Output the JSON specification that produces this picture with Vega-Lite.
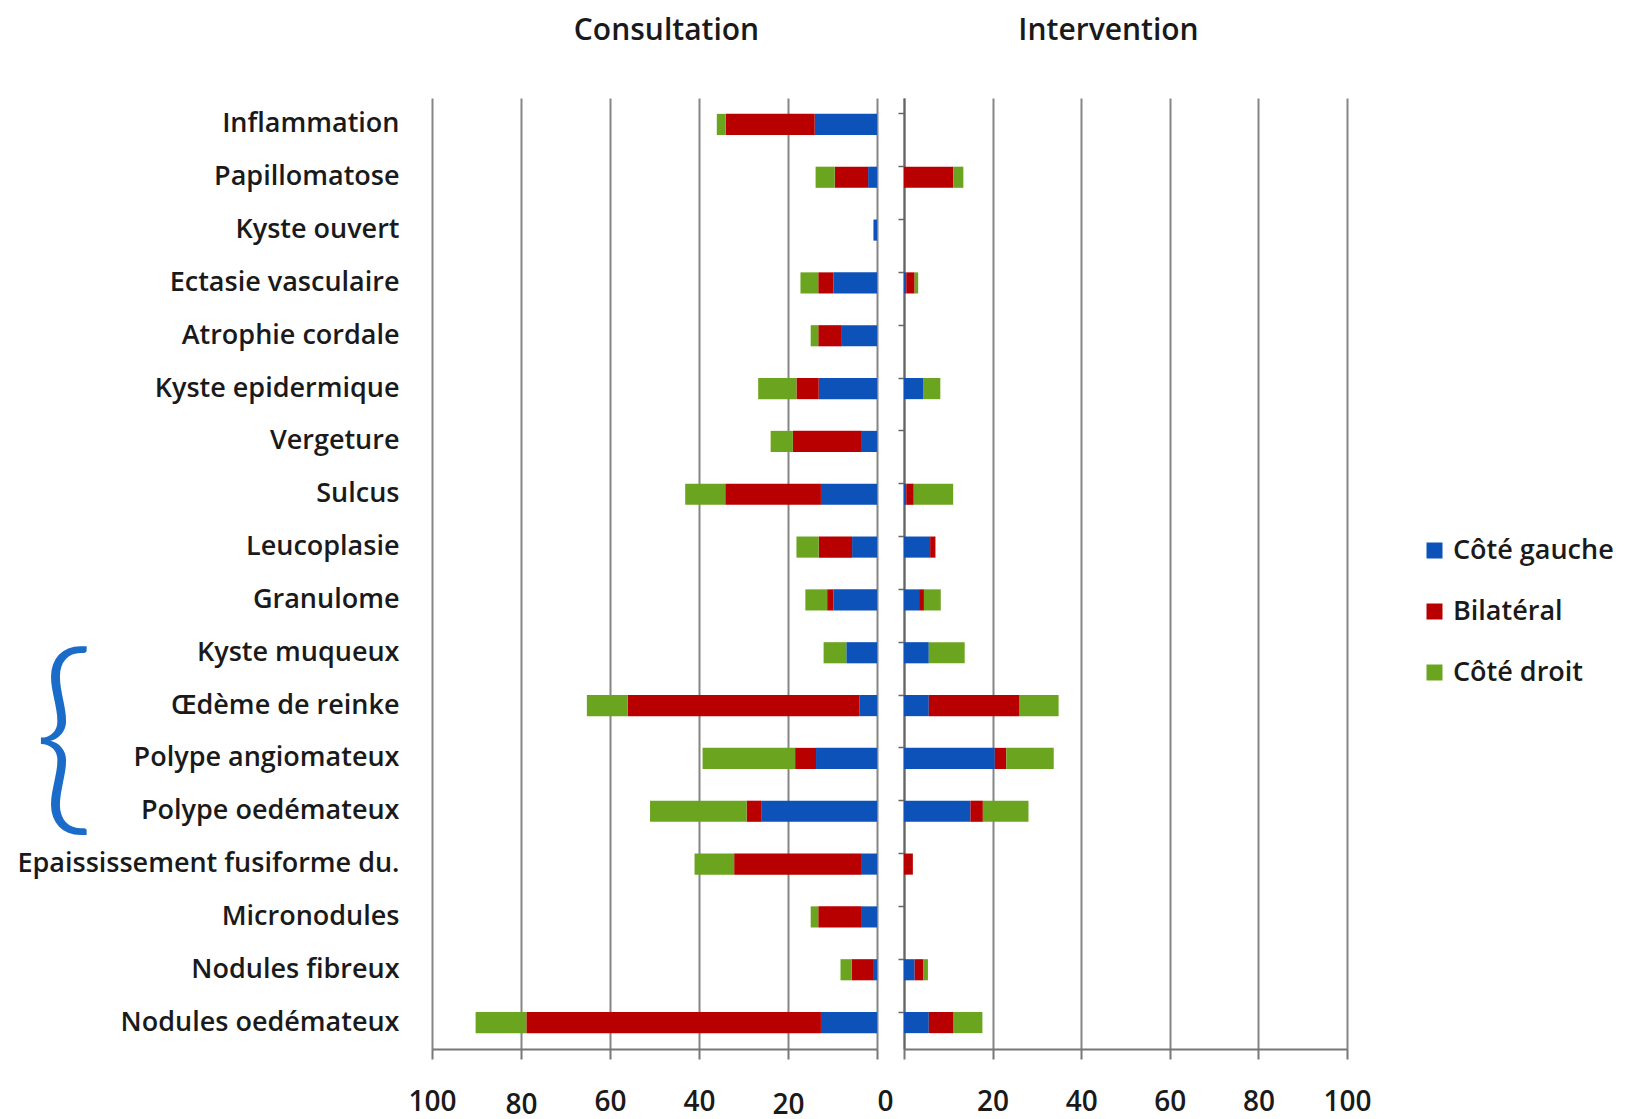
{
  "$schema": "https://vega.github.io/schema/vega-lite/v6.json",
  "background": "white",
  "padding": {"left": 16, "top": 16, "right": 5, "bottom": 3},
  "config": {
    "font": "Open Sans",
    "view": {"stroke": null},
    "title": {"fontSize": 30, "fontWeight": 600, "color": "#1a1a1a", "anchor": "middle", "offset": 52, "font": "Open Sans"},
    "axisX": {
      "grid": true, "gridColor": "#858585", "gridWidth": 2,
      "domainColor": "#777777", "domainWidth": 2,
      "tickColor": "#777777", "tickSize": 10, "tickWidth": 2,
      "labelFontSize": 28, "labelFontWeight": 600, "labelColor": "#1a1a1a", "labelFlush": false,
      "title": null
    },
    "legend": {"labelFontSize": 27, "labelFontWeight": 600, "labelColor": "#1a1a1a", "labelLimit": 0, "symbolType": "square", "symbolSize": 256, "symbolStrokeWidth": 0, "rowPadding": 33, "labelOffset": 5}
  },
  "datasets": {
    "lesions": [
      {"lesion": "Inflammation", "vue": "Consultation", "cote": "Côté gauche", "pourcentage": 14},
      {"lesion": "Inflammation", "vue": "Consultation", "cote": "Bilatéral", "pourcentage": 20},
      {"lesion": "Inflammation", "vue": "Consultation", "cote": "Côté droit", "pourcentage": 2},
      {"lesion": "Papillomatose", "vue": "Consultation", "cote": "Côté gauche", "pourcentage": 2},
      {"lesion": "Papillomatose", "vue": "Consultation", "cote": "Bilatéral", "pourcentage": 7.5},
      {"lesion": "Papillomatose", "vue": "Consultation", "cote": "Côté droit", "pourcentage": 4.3},
      {"lesion": "Kyste ouvert", "vue": "Consultation", "cote": "Côté gauche", "pourcentage": 0.8},
      {"lesion": "Ectasie vasculaire", "vue": "Consultation", "cote": "Côté gauche", "pourcentage": 9.8},
      {"lesion": "Ectasie vasculaire", "vue": "Consultation", "cote": "Bilatéral", "pourcentage": 3.4},
      {"lesion": "Ectasie vasculaire", "vue": "Consultation", "cote": "Côté droit", "pourcentage": 4},
      {"lesion": "Atrophie cordale", "vue": "Consultation", "cote": "Côté gauche", "pourcentage": 7.9},
      {"lesion": "Atrophie cordale", "vue": "Consultation", "cote": "Bilatéral", "pourcentage": 5.3},
      {"lesion": "Atrophie cordale", "vue": "Consultation", "cote": "Côté droit", "pourcentage": 1.7},
      {"lesion": "Kyste epidermique", "vue": "Consultation", "cote": "Côté gauche", "pourcentage": 13.1},
      {"lesion": "Kyste epidermique", "vue": "Consultation", "cote": "Bilatéral", "pourcentage": 5},
      {"lesion": "Kyste epidermique", "vue": "Consultation", "cote": "Côté droit", "pourcentage": 8.6},
      {"lesion": "Vergeture", "vue": "Consultation", "cote": "Côté gauche", "pourcentage": 3.4},
      {"lesion": "Vergeture", "vue": "Consultation", "cote": "Bilatéral", "pourcentage": 15.5},
      {"lesion": "Vergeture", "vue": "Consultation", "cote": "Côté droit", "pourcentage": 5},
      {"lesion": "Sulcus", "vue": "Consultation", "cote": "Côté gauche", "pourcentage": 12.6},
      {"lesion": "Sulcus", "vue": "Consultation", "cote": "Bilatéral", "pourcentage": 21.5},
      {"lesion": "Sulcus", "vue": "Consultation", "cote": "Côté droit", "pourcentage": 9},
      {"lesion": "Leucoplasie", "vue": "Consultation", "cote": "Côté gauche", "pourcentage": 5.6},
      {"lesion": "Leucoplasie", "vue": "Consultation", "cote": "Bilatéral", "pourcentage": 7.5},
      {"lesion": "Leucoplasie", "vue": "Consultation", "cote": "Côté droit", "pourcentage": 5},
      {"lesion": "Granulome", "vue": "Consultation", "cote": "Côté gauche", "pourcentage": 9.8},
      {"lesion": "Granulome", "vue": "Consultation", "cote": "Bilatéral", "pourcentage": 1.4},
      {"lesion": "Granulome", "vue": "Consultation", "cote": "Côté droit", "pourcentage": 4.9},
      {"lesion": "Kyste muqueux", "vue": "Consultation", "cote": "Côté gauche", "pourcentage": 6.9},
      {"lesion": "Kyste muqueux", "vue": "Consultation", "cote": "Côté droit", "pourcentage": 5.1},
      {"lesion": "Œdème de reinke", "vue": "Consultation", "cote": "Côté gauche", "pourcentage": 3.9},
      {"lesion": "Œdème de reinke", "vue": "Consultation", "cote": "Bilatéral", "pourcentage": 52.1},
      {"lesion": "Œdème de reinke", "vue": "Consultation", "cote": "Côté droit", "pourcentage": 9.2},
      {"lesion": "Polype angiomateux", "vue": "Consultation", "cote": "Côté gauche", "pourcentage": 13.7},
      {"lesion": "Polype angiomateux", "vue": "Consultation", "cote": "Bilatéral", "pourcentage": 4.7},
      {"lesion": "Polype angiomateux", "vue": "Consultation", "cote": "Côté droit", "pourcentage": 20.8},
      {"lesion": "Polype oedémateux", "vue": "Consultation", "cote": "Côté gauche", "pourcentage": 25.9},
      {"lesion": "Polype oedémateux", "vue": "Consultation", "cote": "Bilatéral", "pourcentage": 3.4},
      {"lesion": "Polype oedémateux", "vue": "Consultation", "cote": "Côté droit", "pourcentage": 21.7},
      {"lesion": "Epaississement fusiforme du.", "vue": "Consultation", "cote": "Côté gauche", "pourcentage": 3.4},
      {"lesion": "Epaississement fusiforme du.", "vue": "Consultation", "cote": "Bilatéral", "pourcentage": 28.7},
      {"lesion": "Epaississement fusiforme du.", "vue": "Consultation", "cote": "Côté droit", "pourcentage": 8.9},
      {"lesion": "Micronodules", "vue": "Consultation", "cote": "Côté gauche", "pourcentage": 3.4},
      {"lesion": "Micronodules", "vue": "Consultation", "cote": "Bilatéral", "pourcentage": 9.8},
      {"lesion": "Micronodules", "vue": "Consultation", "cote": "Côté droit", "pourcentage": 1.7},
      {"lesion": "Nodules fibreux", "vue": "Consultation", "cote": "Côté gauche", "pourcentage": 0.7},
      {"lesion": "Nodules fibreux", "vue": "Consultation", "cote": "Bilatéral", "pourcentage": 5},
      {"lesion": "Nodules fibreux", "vue": "Consultation", "cote": "Côté droit", "pourcentage": 2.5},
      {"lesion": "Nodules oedémateux", "vue": "Consultation", "cote": "Côté gauche", "pourcentage": 12.6},
      {"lesion": "Nodules oedémateux", "vue": "Consultation", "cote": "Bilatéral", "pourcentage": 66.2},
      {"lesion": "Nodules oedémateux", "vue": "Consultation", "cote": "Côté droit", "pourcentage": 11.4},
      {"lesion": "Papillomatose", "vue": "Intervention", "cote": "Bilatéral", "pourcentage": 11.1},
      {"lesion": "Papillomatose", "vue": "Intervention", "cote": "Côté droit", "pourcentage": 2.3},
      {"lesion": "Ectasie vasculaire", "vue": "Intervention", "cote": "Côté gauche", "pourcentage": 0.5},
      {"lesion": "Ectasie vasculaire", "vue": "Intervention", "cote": "Bilatéral", "pourcentage": 1.9},
      {"lesion": "Ectasie vasculaire", "vue": "Intervention", "cote": "Côté droit", "pourcentage": 0.8},
      {"lesion": "Kyste epidermique", "vue": "Intervention", "cote": "Côté gauche", "pourcentage": 4.3},
      {"lesion": "Kyste epidermique", "vue": "Intervention", "cote": "Côté droit", "pourcentage": 3.9},
      {"lesion": "Sulcus", "vue": "Intervention", "cote": "Côté gauche", "pourcentage": 0.5},
      {"lesion": "Sulcus", "vue": "Intervention", "cote": "Bilatéral", "pourcentage": 1.7},
      {"lesion": "Sulcus", "vue": "Intervention", "cote": "Côté droit", "pourcentage": 8.9},
      {"lesion": "Leucoplasie", "vue": "Intervention", "cote": "Côté gauche", "pourcentage": 5.9},
      {"lesion": "Leucoplasie", "vue": "Intervention", "cote": "Bilatéral", "pourcentage": 1.2},
      {"lesion": "Granulome", "vue": "Intervention", "cote": "Côté gauche", "pourcentage": 3.4},
      {"lesion": "Granulome", "vue": "Intervention", "cote": "Bilatéral", "pourcentage": 1.1},
      {"lesion": "Granulome", "vue": "Intervention", "cote": "Côté droit", "pourcentage": 3.8},
      {"lesion": "Kyste muqueux", "vue": "Intervention", "cote": "Côté gauche", "pourcentage": 5.6},
      {"lesion": "Kyste muqueux", "vue": "Intervention", "cote": "Côté droit", "pourcentage": 8.1},
      {"lesion": "Œdème de reinke", "vue": "Intervention", "cote": "Côté gauche", "pourcentage": 5.6},
      {"lesion": "Œdème de reinke", "vue": "Intervention", "cote": "Bilatéral", "pourcentage": 20.5},
      {"lesion": "Œdème de reinke", "vue": "Intervention", "cote": "Côté droit", "pourcentage": 8.8},
      {"lesion": "Polype angiomateux", "vue": "Intervention", "cote": "Côté gauche", "pourcentage": 20.5},
      {"lesion": "Polype angiomateux", "vue": "Intervention", "cote": "Bilatéral", "pourcentage": 2.6},
      {"lesion": "Polype angiomateux", "vue": "Intervention", "cote": "Côté droit", "pourcentage": 10.7},
      {"lesion": "Polype oedémateux", "vue": "Intervention", "cote": "Côté gauche", "pourcentage": 15},
      {"lesion": "Polype oedémateux", "vue": "Intervention", "cote": "Bilatéral", "pourcentage": 2.8},
      {"lesion": "Polype oedémateux", "vue": "Intervention", "cote": "Côté droit", "pourcentage": 10.3},
      {"lesion": "Epaississement fusiforme du.", "vue": "Intervention", "cote": "Bilatéral", "pourcentage": 2},
      {"lesion": "Nodules fibreux", "vue": "Intervention", "cote": "Côté gauche", "pourcentage": 2.4},
      {"lesion": "Nodules fibreux", "vue": "Intervention", "cote": "Bilatéral", "pourcentage": 2},
      {"lesion": "Nodules fibreux", "vue": "Intervention", "cote": "Côté droit", "pourcentage": 1},
      {"lesion": "Nodules oedémateux", "vue": "Intervention", "cote": "Côté gauche", "pourcentage": 5.6},
      {"lesion": "Nodules oedémateux", "vue": "Intervention", "cote": "Bilatéral", "pourcentage": 5.6},
      {"lesion": "Nodules oedémateux", "vue": "Intervention", "cote": "Côté droit", "pourcentage": 6.5}
    ]
  },
  "bounds": "flush",
  "spacing": 27,
  "hconcat": [
    {
      "width": 445,
      "height": 951,
      "title": {"text": "Consultation", "dx": 12},
      "layer": [
        {
          "data": {"name": "lesions"},
          "transform": [
            {"filter": "datum.vue === 'Consultation'"},
            {"calculate": "indexof(['Côté gauche', 'Bilatéral', 'Côté droit'], datum.cote)", "as": "rang"}
          ],
          "mark": {"type": "bar"},
          "encoding": {
            "y": {
              "field": "lesion", "type": "nominal",
              "scale": {"domain": ["Inflammation", "Papillomatose", "Kyste ouvert", "Ectasie vasculaire", "Atrophie cordale", "Kyste epidermique", "Vergeture", "Sulcus", "Leucoplasie", "Granulome", "Kyste muqueux", "Œdème de reinke", "Polype angiomateux", "Polype oedémateux", "Epaississement fusiforme du.", "Micronodules", "Nodules fibreux", "Nodules oedémateux"], "paddingInner": 0.6, "paddingOuter": 0.3},
              "axis": {"orient": "left", "title": null, "domain": false, "ticks": false, "grid": false, "labelPadding": 33, "labelFontSize": 27, "labelFontWeight": 600, "labelColor": "#1a1a1a", "labelLimit": 0}
            },
            "x": {
              "field": "pourcentage", "type": "quantitative", "stack": "zero",
              "scale": {"domain": [0, 100], "reverse": true},
              "axis": {
                "values": [0, 20, 40, 60, 80, 100],
                "labelAlign": {"condition": {"test": "datum.value === 0", "value": "left"}, "value": "center"},
                "labelPadding": {"condition": {"test": "datum.value === 80 || datum.value === 20", "value": 32}, "value": 29}
              }
            },
            "order": {"field": "rang", "type": "quantitative", "sort": "ascending"},
            "color": {
              "field": "cote", "type": "nominal",
              "sort": ["Côté gauche", "Bilatéral", "Côté droit"],
              "scale": {"domain": ["Côté gauche", "Bilatéral", "Côté droit"], "range": ["#0C52B9", "#B80000", "#6BA41E"]},
              "legend": {"title": null, "orient": "none", "legendX": 989, "legendY": 439}
            }
          }
        },
        {
          "mark": {"type": "rule", "color": "#666666", "strokeWidth": 2},
          "encoding": {
            "x": {"datum": 0, "type": "quantitative"}
          }
        },
        {
          "data": {"values": [{"marque": "{"}]},
          "mark": {"type": "text", "font": "Lato", "fontWeight": 300, "fontSize": 212, "color": "#1A6CC8", "baseline": "middle", "align": "center", "clip": false, "dy": -15},
          "encoding": {
            "text": {"field": "marque"},
            "y": {"datum": "Polype angiomateux", "type": "nominal"},
            "x": {"datum": 182.8, "type": "quantitative"}
          }
        }
      ]
    },
    {
      "width": 443,
      "height": 951,
      "title": {"text": "Intervention", "dx": -17},
      "data": {"name": "lesions"},
      "transform": [
        {"filter": "datum.vue === 'Intervention'"},
        {"calculate": "indexof(['Côté gauche', 'Bilatéral', 'Côté droit'], datum.cote)", "as": "rang"}
      ],
      "mark": {"type": "bar"},
      "encoding": {
        "y": {
          "field": "lesion", "type": "nominal",
          "scale": {"domain": ["Inflammation", "Papillomatose", "Kyste ouvert", "Ectasie vasculaire", "Atrophie cordale", "Kyste epidermique", "Vergeture", "Sulcus", "Leucoplasie", "Granulome", "Kyste muqueux", "Œdème de reinke", "Polype angiomateux", "Polype oedémateux", "Epaississement fusiforme du.", "Micronodules", "Nodules fibreux", "Nodules oedémateux"], "paddingInner": 0.6, "paddingOuter": 0.3},
          "axis": {"orient": "left", "title": null, "labels": false, "grid": false, "domain": true, "domainColor": "#666666", "domainWidth": 2, "ticks": true, "tickSize": 6, "tickColor": "#666666", "tickWidth": 1.5, "bandPosition": 0}
        },
        "x": {
          "field": "pourcentage", "type": "quantitative", "stack": "zero",
          "scale": {"domain": [0, 100]},
          "axis": {
            "values": [0, 20, 40, 60, 80, 100],
            "labelExpr": "datum.value === 0 ? '' : datum.label",
            "labelPadding": 29
          }
        },
        "order": {"field": "rang", "type": "quantitative", "sort": "ascending"},
        "color": {
          "field": "cote", "type": "nominal",
          "sort": ["Côté gauche", "Bilatéral", "Côté droit"],
          "scale": {"domain": ["Côté gauche", "Bilatéral", "Côté droit"], "range": ["#0C52B9", "#B80000", "#6BA41E"]},
          "legend": {"title": null, "orient": "none", "legendX": 989, "legendY": 439}
        }
      }
    }
  ]
}
